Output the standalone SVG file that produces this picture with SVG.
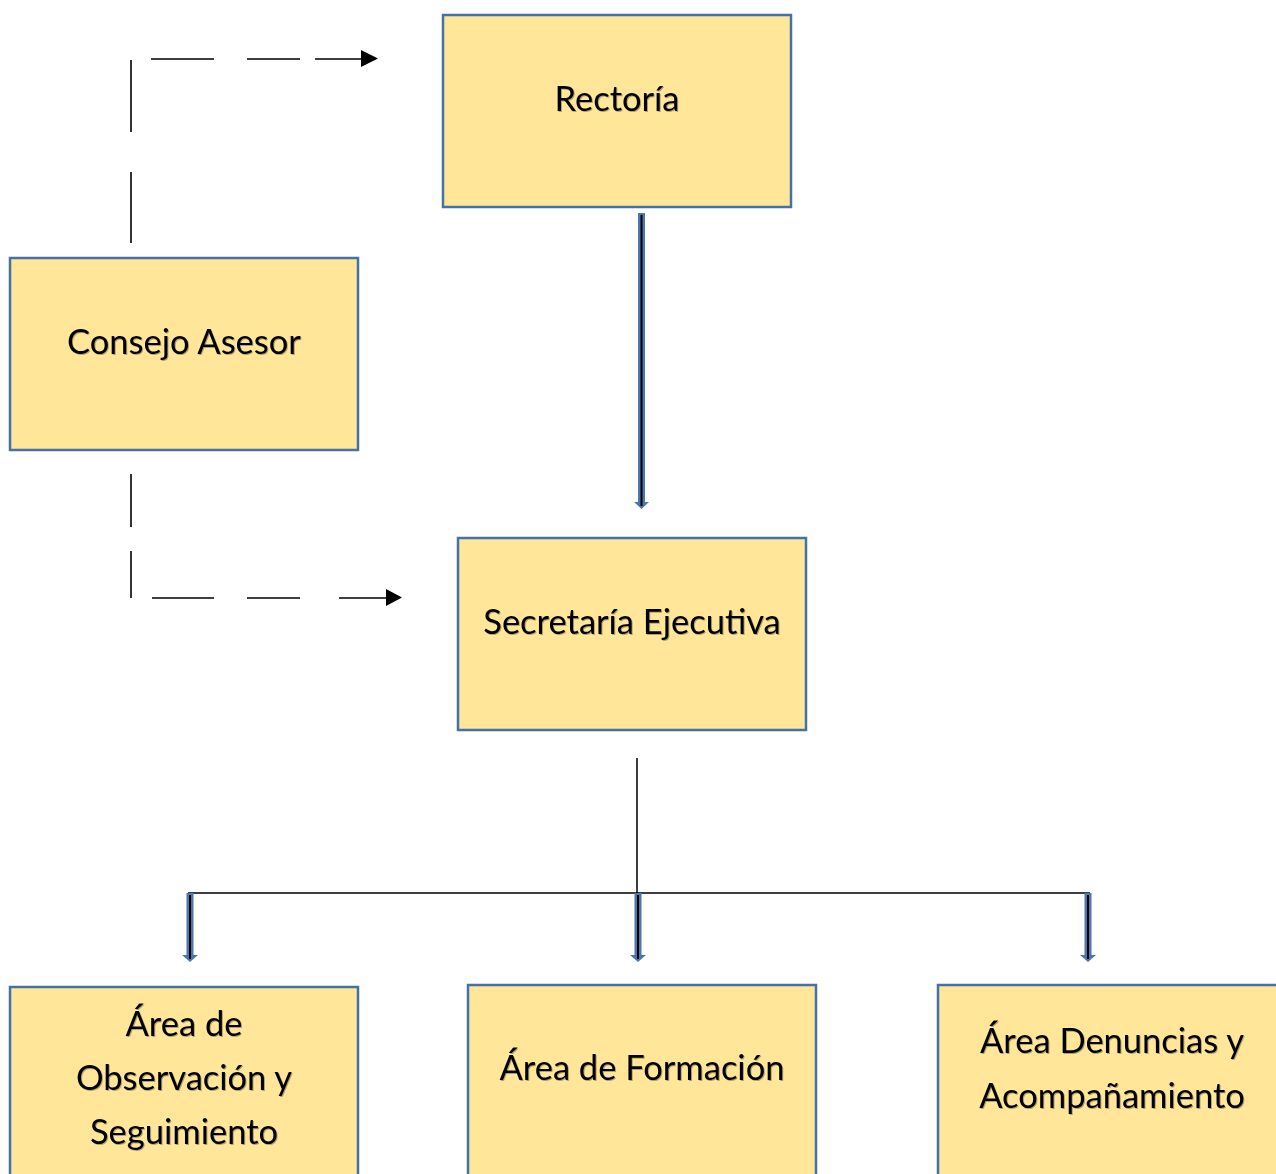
<svg xmlns="http://www.w3.org/2000/svg" width="1276" height="1174" viewBox="0 0 1276 1174">
<defs>
<style>
.box{fill:#FFE699;stroke:#4472A8;stroke-width:2.5}
.t{font-family:Lato,"Open Sans","Liberation Sans",sans-serif;font-size:34.5px;fill:#000;text-anchor:middle;filter:url(#sh)}
.d{stroke:#000;stroke-width:1.6;fill:none}
.ln{stroke:#000;stroke-width:1.5;fill:none}
.ar{fill:#4A78AC}
.ai{stroke:#000;stroke-width:2}
</style>
<filter id="sh" x="-5%" y="-20%" width="110%" height="140%">
<feDropShadow dx="1" dy="1" stdDeviation="0.6" flood-color="#000" flood-opacity="0.3"/>
</filter>
</defs>
<rect width="1276" height="1174" fill="#fff"/>
<g id="rectoria"><rect class="box" x="443" y="15" width="348" height="192"/><text class="t" x="617" y="111">Rectoría</text></g>
<g id="consejo"><rect class="box" x="10" y="258" width="348" height="192"/><text class="t" x="184" y="354">Consejo Asesor</text></g>
<g id="secretaria"><rect class="box" x="458" y="538" width="348" height="192"/><text class="t" x="632" y="634">Secretaría Ejecutiva</text></g>
<g id="observacion"><rect class="box" x="10" y="987" width="348" height="200"/><text class="t" x="184" y="1036">Área de</text><text class="t" x="184" y="1090">Observación y</text><text class="t" x="184" y="1144">Seguimiento</text></g>
<g id="formacion"><rect class="box" x="468" y="985" width="348" height="200"/><text class="t" x="642" y="1080">Área de Formación</text></g>
<g id="denuncias"><rect class="box" x="938" y="985" width="348" height="200"/><text class="t" x="1112" y="1053">Área Denuncias y</text><text class="t" x="1112" y="1108">Acompañamiento</text></g>
<g id="connectors">
<path class="d" d="M131 60V132M131 172V243M151 59H214M247 59H300M315 59H364"/>
<polygon points="361,50 378,58.5 361,67" fill="#000"/>
<path class="d" d="M131 474V527M131 551V598M152 598H214M247 598H300M339 598H389"/>
<polygon points="386,589 402,597.5 386,606" fill="#000"/>
<polygon class="ar" points="638,213 645,213 645,502 649,502 641.5,509 634,502 638,502"/>
<line class="ai" x1="641.5" y1="215" x2="641.5" y2="506"/>
<path class="ln" d="M637 758V893M188 893H1090"/>
<polygon class="ar" points="186.5,893 193.5,893 193.5,955 198,955 190,962 182,955 186.5,955"/>
<line class="ai" x1="190" y1="895" x2="190" y2="959"/>
<polygon class="ar" points="634.5,893 641.5,893 641.5,955 646,955 638,962 630,955 634.5,955"/>
<line class="ai" x1="638" y1="895" x2="638" y2="959"/>
<polygon class="ar" points="1084.5,893 1091.5,893 1091.5,955 1096,955 1088,962 1080,955 1084.5,955"/>
<line class="ai" x1="1088" y1="895" x2="1088" y2="959"/>
</g>
</svg>
